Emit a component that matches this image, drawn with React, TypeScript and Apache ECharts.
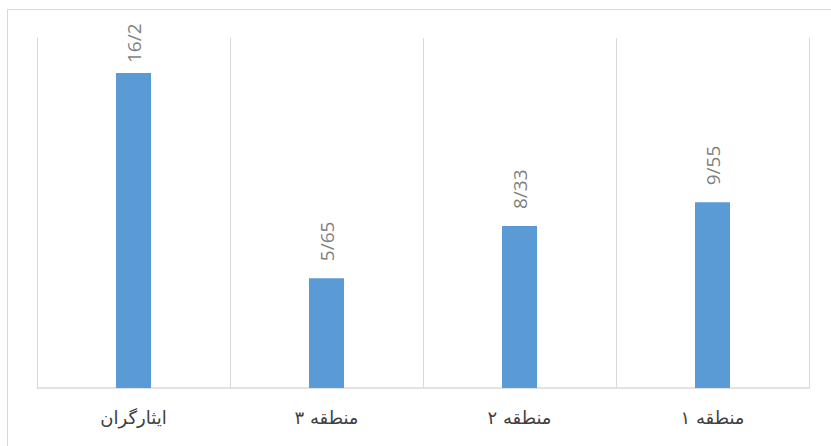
import React, { useEffect, useRef } from "react";
import * as echarts from "echarts";

const categories = ["ایثارگران", "منطقه ۳", "منطقه ۲", "منطقه ۱"];
const values = [16.2, 5.65, 8.33, 9.55];

export default function App() {
  const ref = useRef<HTMLDivElement>(null);
  useEffect(() => {
    const chart = echarts.init(ref.current!, undefined, { renderer: "svg" });
    const maxV = Math.max(...values);
    chart.setOption({
      animation: false,
      backgroundColor: "#ffffff",
      graphic: [
        {
          type: "rect",
          shape: { x: 7.5, y: 9.5, width: 840, height: 460 },
          style: { fill: "none", stroke: "#d9d9d9", lineWidth: 1 },
          silent: true,
        },
      ],
      grid: { left: 37, right: 22, top: 38, bottom: 58, containLabel: false },
      xAxis: {
        type: "category",
        data: categories,
        axisLine: { show: true, lineStyle: { color: "#d9d9d9", width: 1.5 } },
        axisTick: { show: false },
        splitLine: { show: true, interval: 0, lineStyle: { color: "#d9d9d9", width: 1 } },
        axisLabel: {
          color: "#404040",
          fontSize: 18,
          margin: 20,
          fontFamily: "'DejaVu Sans', sans-serif",
        },
      },
      yAxis: {
        type: "value",
        min: 0,
        max: 18,
        show: false,
        splitLine: { show: false },
      },
      series: [
        {
          type: "bar",
          data: values.map((v) => (v === maxV ? { value: v, label: { distance: 10 } } : v)),
          barWidth: 35,
          itemStyle: { color: "#5b9bd5" },
          label: {
            show: true,
            position: "top",
            rotate: 90,
            align: "left",
            verticalAlign: "middle",
            distance: 17,
            color: "#7f7f7f",
            fontSize: 19,
            fontFamily: "'Open Sans', 'Noto Sans', sans-serif",
            formatter: (p: any) => String(p.value).replace(".", "/"),
          },
        },
      ],
    });
    return () => chart.dispose();
  }, []);
  return <div ref={ref} style={{ width: 831, height: 446, position: "absolute", left: 0, top: 0 }} />;
}
